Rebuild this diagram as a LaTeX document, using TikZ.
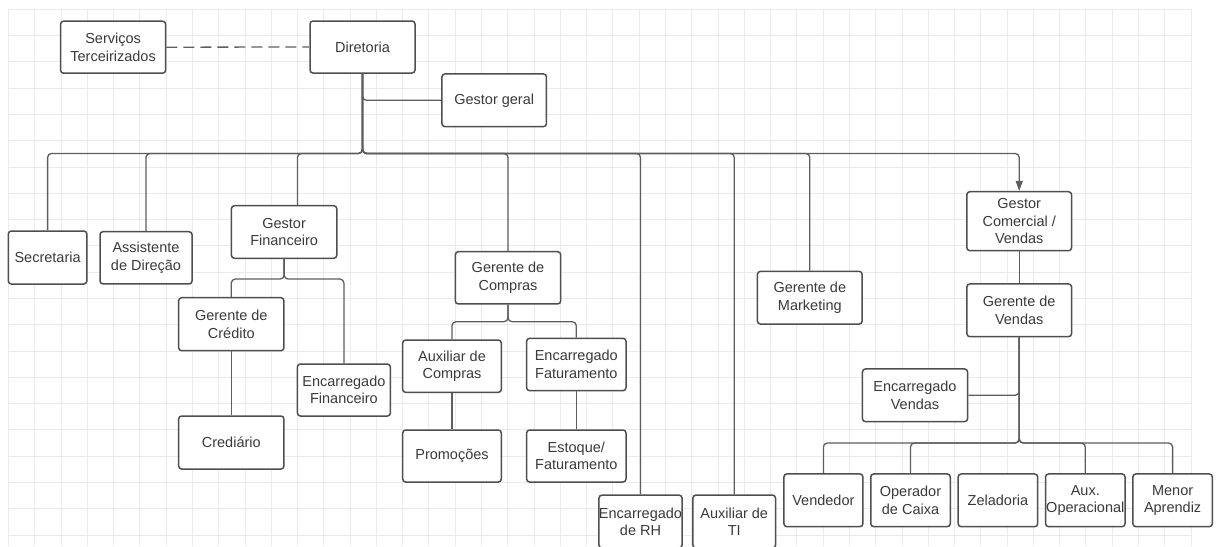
\documentclass[tikz,border=0pt]{standalone}
\usepackage{fontspec}
\setmainfont{Liberation Sans}
\usetikzlibrary{arrows.meta}
\definecolor{gridc}{HTML}{EBEBEB}
\definecolor{boxc}{HTML}{4F4F4F}
\definecolor{connc}{HTML}{5E5E5E}
\definecolor{txtc}{HTML}{3A3A3A}
\tikzset{
  box/.style={draw=boxc, line width=1.5pt, rounded corners=3pt, fill=white,
    inner sep=0pt, align=center, text=txtc,
    font=\fontsize{14.5}{17.5}\selectfont},
  conn/.style={draw=connc, line width=1.3pt, rounded corners=4pt},
  dashconn/.style={draw=connc, line width=1.3pt, dash pattern=on 11pt off 6pt},
  gridline/.style={draw=gridc, line width=0.8pt}
}
\begin{document}
\begin{tikzpicture}[x=1pt,y=-1pt]
\useasboundingbox[fill=white] (0,0) rectangle (1217,546);
% grid
\foreach \i in {0,...,45} \draw[gridline] ({8.4+\i*26.28},9.3) -- ({8.4+\i*26.28},546);
\foreach \k in {0,...,20} \draw[gridline] (8.4,{9.3+\k*26.28}) -- (1191,{9.3+\k*26.28});

% nodes
\node[box, minimum width=105pt, minimum height=52pt] (serv) at (113.1,47.2) {Serviços\\Terceirizados};
\node[box, minimum width=105pt, minimum height=52pt] (dir) at (362.5,47) {Diretoria};
\node[box, minimum width=104.5pt, minimum height=52.7pt] (gg) at (494.2,100.3) {Gestor geral};
\node[box, minimum width=78.5pt, minimum height=53pt] (sec) at (47.6,257.5) {Secretaria};
\node[box, minimum width=92pt, minimum height=52.3pt] (asd) at (146,257.8) {Assistente\\de Direção};
\node[box, minimum width=105.3pt, minimum height=52.6pt] (gfin) at (284.1,232) {Gestor\\Financeiro};
\node[box, minimum width=105.3pt, minimum height=52.3pt] (gcomp) at (508,277.8) {Gerente de\\Compras};
\node[box, minimum width=105.3pt, minimum height=53pt] (gcred) at (231.3,324.2) {Gerente de\\Crédito};
\node[box, minimum width=105.3pt, minimum height=53pt] (cred) at (231.3,442.5) {Crediário};
\node[box, minimum width=93pt, minimum height=52pt] (efin) at (343.9,390) {Encarregado\\Financeiro};
\node[box, minimum width=98.7pt, minimum height=52.3pt] (auxc) at (452,366.2) {Auxiliar de\\Compras};
\node[box, minimum width=99.4pt, minimum height=52.4pt] (efat) at (576.3,364.5) {Encarregado\\Faturamento};
\node[box, minimum width=98.7pt, minimum height=52pt] (prom) at (452,456) {Promoções};
\node[box, minimum width=99.4pt, minimum height=52pt] (est) at (576.3,456) {Estoque/\\Faturamento};
\node[box, minimum width=83pt, minimum height=53pt] (erh) at (640.5,521.6) {Encarregado\\de RH};
\node[box, minimum width=82.6pt, minimum height=53pt] (ati) at (734.2,521.6) {Auxiliar de\\TI};
\node[box, minimum width=104.7pt, minimum height=52.7pt] (gmkt) at (809.8,297.7) {Gerente de\\Marketing};
\node[box, minimum width=104.7pt, minimum height=59pt] (gcv) at (1019.2,221.2) {Gestor\\Comercial /\\Vendas};
\node[box, minimum width=104.7pt, minimum height=52.7pt] (gv) at (1019.2,310.3) {Gerente de\\Vendas};
\node[box, minimum width=105.1pt, minimum height=52.7pt] (ev) at (915,395.3) {Encarregado\\Vendas};
\node[box, minimum width=79pt, minimum height=52.7pt] (vend) at (823.4,500.3) {Vendedor};
\node[box, minimum width=79.5pt, minimum height=52.7pt] (opc) at (910.5,500.3) {Operador\\de Caixa};
\node[box, minimum width=79.5pt, minimum height=52.7pt] (zel) at (997.9,500.3) {Zeladoria};
\node[box, minimum width=79.5pt, minimum height=52.7pt] (auxo) at (1085.3,500.3) {Aux.\\Operacional};
\node[box, minimum width=79.5pt, minimum height=52.7pt] (menor) at (1172.6,500.3) {Menor\\Aprendiz};

% connectors
\draw[dashconn] (serv.east) -- (dir.west);
\draw[conn] (dir.south) |- (gg.west);
\foreach \c in {sec,asd,gcomp,erh,ati,gmkt}
  \draw[conn] (dir.south) -- ++(0,79.7) -| (\c.north);
\draw[conn] (dir.south) -- ++(0,79.7) -| ([xshift=13.3pt]gfin.north);
\draw[conn,-{Triangle[length=10pt,width=7pt]}] (dir.south) -- ++(0,79.7) -| (gcv.north);
\draw[conn] (gfin.south) -- ++(0,20) -| (gcred.north);
\draw[conn] (gfin.south) -- ++(0,20) -| (efin.north);
\draw[conn] (gcred.south) -- (cred.north);
\draw[conn] (gcomp.south) -- ++(0,17) -| (auxc.north);
\draw[conn] (gcomp.south) -- ++(0,17) -| (efat.north);
\draw[conn] (auxc.south) -- (prom.north);
\draw[conn] (efat.south) -- (est.north);
\draw[conn] (gcv.south) -- (gv.north);
\draw[conn] (gv.south) |- (ev.east);
\foreach \c in {vend,opc,auxo,menor}
  \draw[conn] (gv.south) -- ++(0,105.6) -| (\c.north);
\end{tikzpicture}
\end{document}
